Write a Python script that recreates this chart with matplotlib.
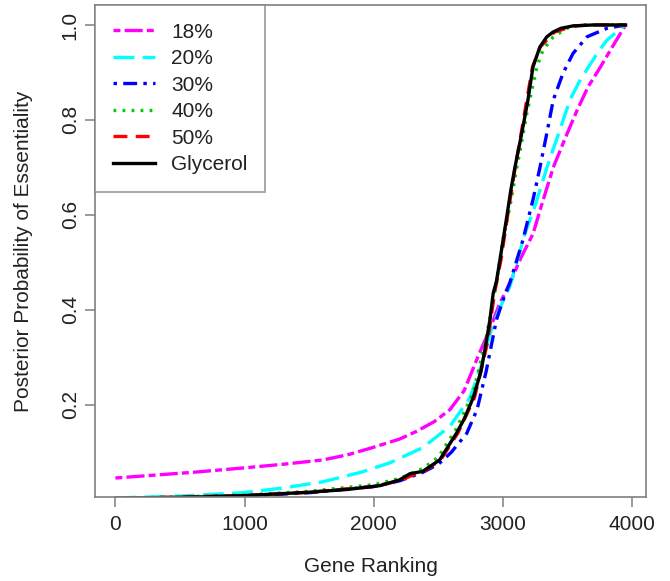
import matplotlib
matplotlib.use("Agg")
import matplotlib.pyplot as plt

plt.rcParams['font.family'] = ['Liberation Sans', 'DejaVu Sans']
plt.rcParams['lines.scale_dashes'] = False

# Gene ranking (x) and posterior probability (y)
x_18 = [0, 300, 600, 985, 1300, 1605, 1800, 1990, 2200, 2330, 2470, 2590, 2700, 2820,
        2900, 2970, 3055, 3140, 3233, 3310, 3390, 3480, 3574, 3660, 3752, 3850, 3950]
y_18 = [0.046, 0.052, 0.058, 0.067, 0.075, 0.084, 0.095, 0.11, 0.128, 0.144, 0.165, 0.19,
        0.23, 0.31, 0.36, 0.41, 0.457, 0.51, 0.56, 0.63, 0.70, 0.76, 0.82, 0.87, 0.91,
        0.955, 1.0]

x_20 = [0, 500, 985, 1300, 1605, 1900, 2125, 2380, 2590, 2745, 2830, 2900, 2970, 3055,
        3170, 3250, 3341, 3430, 3519, 3590, 3659, 3730, 3805, 3880, 3950]
y_20 = [0.004, 0.008, 0.015, 0.025, 0.038, 0.058, 0.078, 0.11, 0.155, 0.215, 0.28, 0.35,
        0.40, 0.45, 0.56, 0.62, 0.70, 0.77, 0.842, 0.88, 0.91, 0.94, 0.968, 0.985, 1.0]

x_30 = [0, 1000, 1500, 2000, 2200, 2380, 2500, 2600, 2720, 2800, 2870, 2950, 3000, 3054,
        3155, 3233, 3287, 3341, 3390, 3465, 3543, 3651, 3806, 3950]
y_30 = [0.003, 0.008, 0.015, 0.028, 0.04, 0.058, 0.075, 0.1, 0.14, 0.19, 0.27, 0.379,
        0.42, 0.457, 0.547, 0.632, 0.70, 0.773, 0.842, 0.898, 0.94, 0.975, 0.993, 1.0]

x_40 = [0, 1000, 1500, 2000, 2200, 2380, 2500, 2640, 2770, 2870, 2950, 3000, 3054, 3108,
        3150, 3186, 3263, 3310, 3390, 3496, 3600, 3950]
y_40 = [0.003, 0.01, 0.018, 0.032, 0.045, 0.066, 0.09, 0.15, 0.225, 0.34, 0.457, 0.547,
        0.617, 0.70, 0.76, 0.815, 0.912, 0.947, 0.975, 0.993, 1.0, 1.0]

x_50 = [0, 1000, 1500, 2000, 2200, 2300, 2400, 2520, 2650, 2780, 2880, 2935, 2985, 3035,
        3095, 3150, 3185, 3230, 3290, 3400, 3550, 3700, 3950]
y_50 = [0.003, 0.009, 0.016, 0.028, 0.04, 0.052, 0.062, 0.085, 0.14, 0.215, 0.33, 0.435,
        0.505, 0.596, 0.70, 0.785, 0.842, 0.912, 0.954, 0.985, 0.998, 1.0, 1.0]

x_gly = [0, 500, 1000, 1500, 1800, 2050, 2200, 2280, 2380, 2510, 2640, 2700, 2770, 2830,
         2870, 2900, 2925, 2950, 2977, 3030, 3060, 3093, 3130, 3155, 3194, 3233, 3287,
         3340, 3388, 3450, 3543, 3700, 3950]
y_gly = [0.003, 0.005, 0.009, 0.016, 0.022, 0.03, 0.042, 0.055, 0.06, 0.084, 0.14, 0.17,
         0.215, 0.27, 0.33, 0.38, 0.435, 0.46, 0.505, 0.596, 0.65, 0.70, 0.75, 0.785,
         0.842, 0.912, 0.954, 0.975, 0.985, 0.993, 0.998, 1.0, 1.0]

labels = ['18%', '20%', '30%', '40%', '50%', 'Glycerol']
x_ticks = [0, 1000, 2000, 3000, 4000]
y_ticks = [0.2, 0.4, 0.6, 0.8, 1.0]

fig = plt.figure(figsize=(6.7, 5.81), dpi=100)
ax = fig.add_axes([95 / 670, 84 / 581, 551 / 670, 492 / 581])

lw = 2.4
ax.plot(x_18, y_18, color='#ff00ff', lw=lw, dashes=(5, 3, 13, 3), label=labels[0])
ax.plot(x_20, y_20, color='#00ffff', lw=lw, dashes=(15, 6), label=labels[1])
ax.plot(x_30, y_30, color='#0000ff', lw=lw, dashes=(2.5, 4.5, 10, 4.5), label=labels[2])
ax.plot(x_40, y_40, color='#00cd00', lw=lw, dashes=(2, 4.5), label=labels[3])
ax.plot(x_50, y_50, color='#ff0000', lw=lw, dashes=(10, 6), label=labels[4])
ax.plot(x_gly, y_gly, color='black', lw=lw, label=labels[5])

ax.set_xlim(-158, 4108)
ax.set_ylim(0.006, 1.042)
ax.set_xticks(x_ticks)
ax.set_yticks(y_ticks)
ax.set_xticklabels([str(t) for t in x_ticks])
ax.set_yticklabels(['%.1f' % t for t in y_ticks], rotation=90, va='center')

for sp in ax.spines.values():
    sp.set_color('#7f7f7f')
    sp.set_linewidth(1.2)
ax.tick_params(axis='both', direction='out', length=7, width=1.1, color='#7f7f7f',
               labelsize=15, labelcolor='#222222')
ax.tick_params(axis='x', pad=6)
ax.tick_params(axis='y', pad=4)

fig.text(371 / 670, 1 - 567 / 581, 'Gene Ranking', ha='center', va='center',
         fontsize=15, color='#222222')
fig.text(24 / 670, 1 - 251 / 581, 'Posterior Probability of Essentiality', ha='center',
         va='center', rotation=90, fontsize=15, color='#222222')

leg = ax.legend(loc='upper left', bbox_to_anchor=(0, 1), borderaxespad=0, fontsize=15,
                frameon=True, fancybox=False, handlelength=2.05, handletextpad=0.75,
                labelspacing=0.36, borderpad=0.85)
leg.get_frame().set_edgecolor('#7f7f7f')
leg.get_frame().set_linewidth(1.2)
for t in leg.get_texts():
    t.set_color('#222222')

fig.savefig('out.png', dpi=100)
